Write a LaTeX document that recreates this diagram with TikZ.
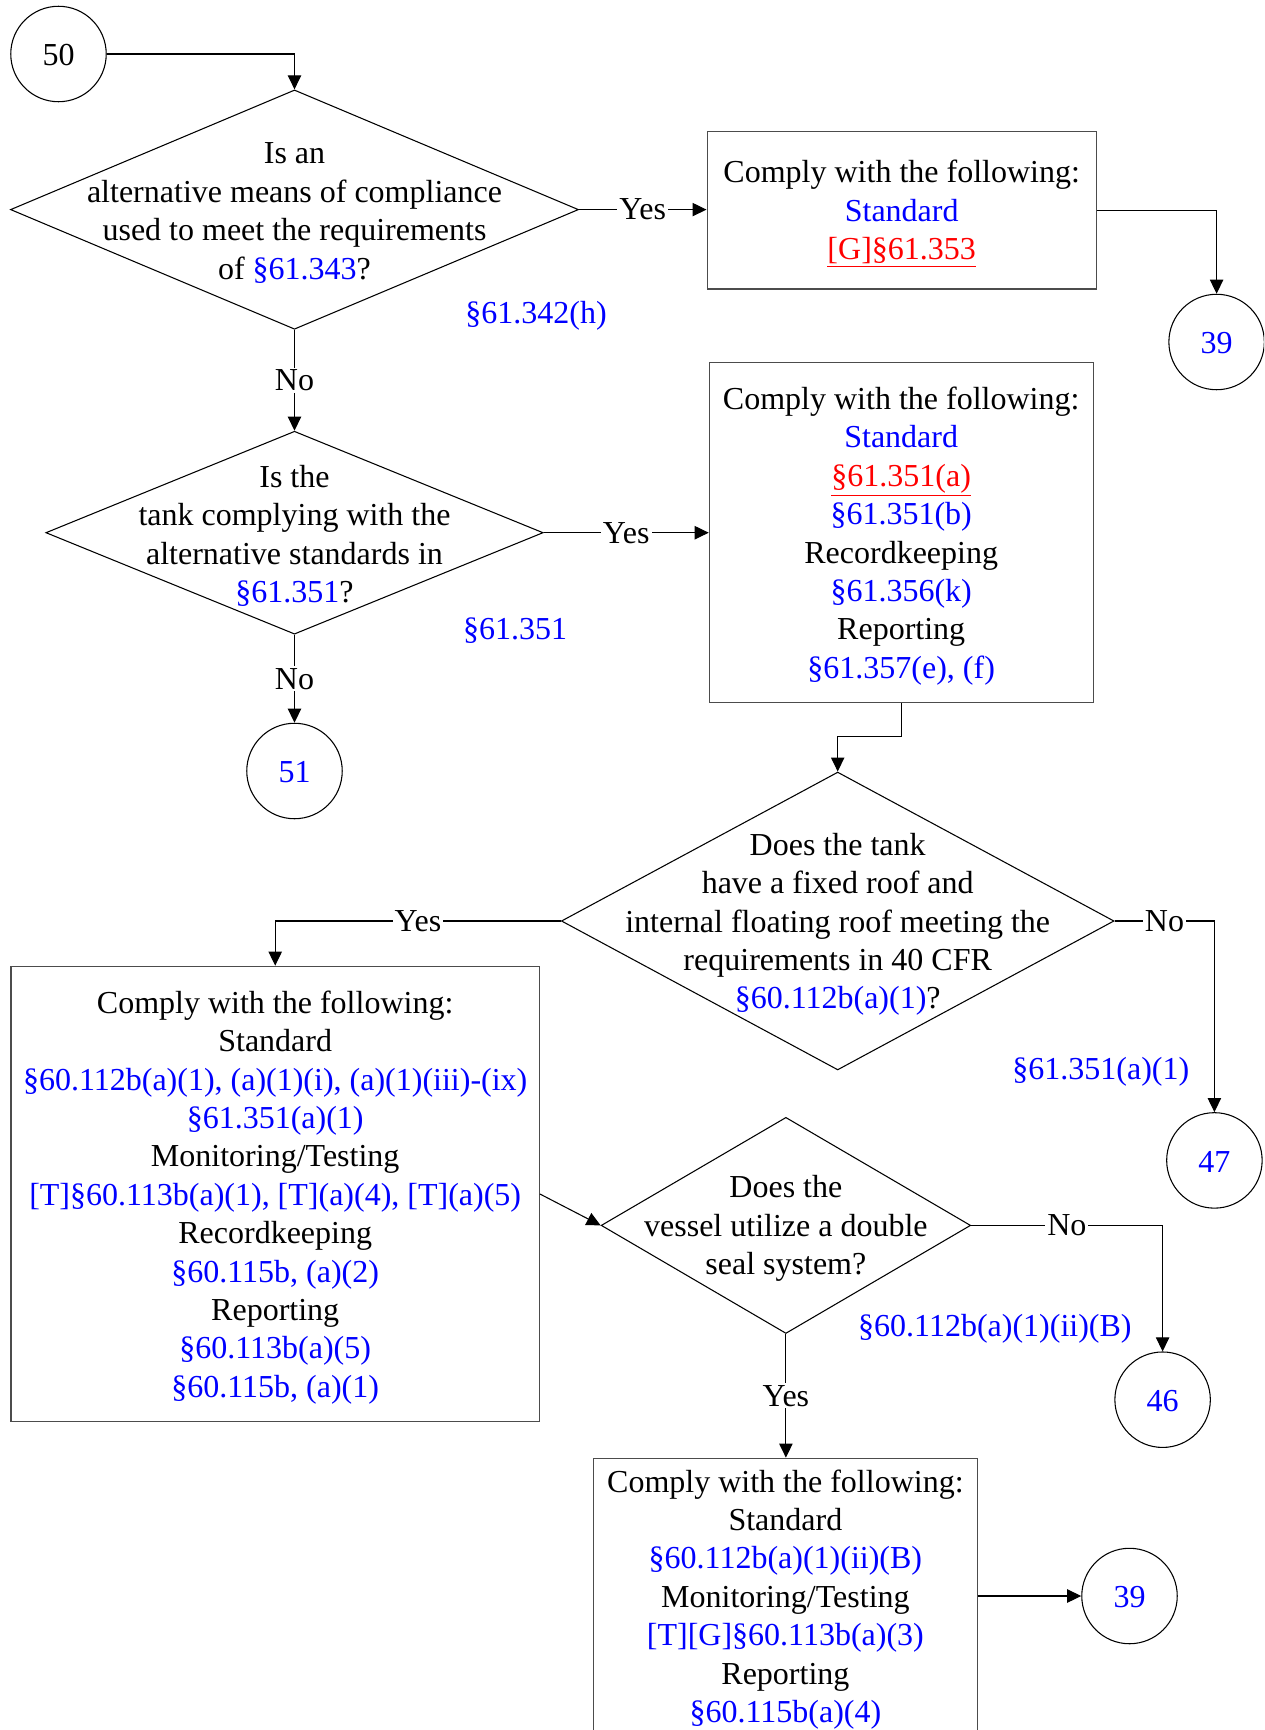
\documentclass[tikz,border=0pt]{standalone}
\usepackage{fontspec}
\setmainfont{Liberation Serif}
\usetikzlibrary{shapes.geometric,arrows.meta}
\definecolor{refblue}{RGB}{0,0,255}
\definecolor{refred}{RGB}{255,0,0}
\newcommand{\refB}[1]{\textcolor{refblue}{#1}}
\newcommand{\refR}[1]{\textcolor{refred}{\underline{#1}}}
\begin{document}
\begin{tikzpicture}[x=0.75pt,y=-0.75pt,
  every node/.style={font=\fontsize{24}{28.8}\selectfont},
  conn/.style={line width=0.8pt, -{Triangle[length=10.5pt,width=10pt]}},
  dec/.style={diamond, draw, line width=0.8pt, inner sep=0pt},
  qtext/.style={align=center, inner sep=0pt, yshift=-2.5pt},
  ctext/.style={inner sep=0pt, yshift=-0.8pt},
  box/.style={rectangle, draw=black!70, line width=0.8pt, inner sep=0pt},
  onpage/.style={circle, draw, line width=0.8pt, minimum size=71.6pt, inner sep=0pt},
  lab/.style={fill=white, inner sep=1.5pt},
  ref/.style={text=refblue, inner sep=0pt}]
\useasboundingbox (0,0) rectangle (1264,1730);
\clip (0,0) rectangle (1264,1730);

% nodes
\node[onpage] (c50) at (58.5,54) {};
\node[ctext] (c50t) at (c50.center) {50};
\node[dec, minimum width=426pt, minimum height=179.5pt] (d1) at (294.5,209.6) {};
\node[qtext] (d1t) at (d1.center) {Is an\\alternative means of compliance\\used to meet the requirements\\of \refB{§61.343}?};
\node[box, minimum width=292pt, minimum height=118.3pt] (b1) at (901.7,210.1) {};
\node[qtext] (b1t) at (b1.center) {Comply with the following:\\\refB{Standard}\\\refR{[G]§61.353}};
\node[onpage] (c39a) at (1216.6,342) {};
\node[ctext, text=refblue] (c39at) at (c39a.center) {39};
\node[ref] (r1) at (536,315.4) {§61.342(h)};

\node[dec, minimum width=373pt, minimum height=152.2pt] (d2) at (294.5,532.7) {};
\node[qtext] (d2t) at (d2.center) {Is the\\tank complying with the\\alternative standards in\\\refB{§61.351}?};
\node[ref] (r2) at (515.1,630.4) {§61.351};
\node[onpage] (c51) at (294.5,771) {};
\node[ctext, text=refblue] (c51t) at (c51.center) {51};

\node[box, minimum width=287.9pt, minimum height=254.8pt] (b2) at (901.2,532.8) {};
\node[qtext] (b2t) at (b2.center) {Comply with the following:\\\refB{Standard}\\\refR{§61.351(a)}\\\refB{§61.351(b)}\\Recordkeeping\\\refB{§61.356(k)}\\Reporting\\\refB{§61.357(e), (f)}};
\coordinate (k1) at (901.2,736.8);

\node[dec, minimum width=414.5pt, minimum height=223.4pt] (d3) at (837.7,921) {};
\node[qtext] (d3t) at (d3.center) {Does the tank\\have a fixed roof and\\internal floating roof meeting the\\requirements in 40 CFR\\\refB{§60.112b(a)(1)}?};
\node[ref] (r3) at (1100.8,1072.2) {§61.351(a)(1)};
\node[onpage] (c47) at (1214.4,1160.4) {};
\node[ctext, text=refblue] (c47t) at (c47.center) {47};

\node[box, minimum width=396.3pt, minimum height=341.7pt] (b3) at (275.2,1194) {};
\node[qtext] (b3t) at (b3.center) {Comply with the following:\\Standard\\\refB{§60.112b(a)(1), (a)(1)(i), (a)(1)(iii)-(ix)}\\\refB{§61.351(a)(1)}\\Monitoring/Testing\\\refB{[T]§60.113b(a)(1), [T](a)(4), [T](a)(5)}\\Recordkeeping\\\refB{§60.115b, (a)(2)}\\Reporting\\\refB{§60.113b(a)(5)}\\\refB{§60.115b, (a)(1)}};

\node[dec, minimum width=277.1pt, minimum height=162.1pt] (d4) at (785.9,1225.4) {};
\node[qtext] (d4t) at (d4.center) {Does the\\vessel utilize a double\\seal system?};
\node[ref] (r4) at (994.9,1329) {§60.112b(a)(1)(ii)(B)};
\node[onpage] (c46) at (1162.6,1399.7) {};
\node[ctext, text=refblue] (c46t) at (c46.center) {46};

\node[box, minimum width=288pt, minimum height=206.7pt] (b4) at (785.4,1596) {};
\node[qtext] (b4t) at (b4.center) {Comply with the following:\\Standard\\\refB{§60.112b(a)(1)(ii)(B)}\\Monitoring/Testing\\\refB{[T][G]§60.113b(a)(3)}\\Reporting\\\refB{§60.115b(a)(4)}};
\node[onpage] (c39b) at (1129.5,1596) {};
\node[ctext, text=refblue] (c39bt) at (c39b.center) {39};

% connectors
\draw[conn] (c50.east) -| (d1.north);
\draw[conn] (d1.east) -- node[lab]{Yes} (d1.east -| b1.west);
\draw[conn] (b1.east) -| (c39a.north);
\draw[conn] (d1.south) -- node[lab]{No} (d2.north);
\draw[conn] (d2.south) -- node[lab]{No} (c51.north);
\draw[conn] (d2.east) -- node[lab]{Yes} (d2.east -| b2.west);
\draw[conn] (b2.south) -- (k1) -| (d3.north);
\draw[conn] (d3.west) -| node[lab,pos=0.25]{Yes} (b3.north);
\draw[conn] (d3.east) -| node[lab,pos=0.25]{No} (c47.north);
\draw[conn] (b3.east) -- (d4.west);
\draw[conn] (d4.east) -| node[lab,pos=0.25]{No} (c46.north);
\draw[conn] (d4.south) -- node[lab]{Yes} (d4.south |- b4.north);
\draw[conn] (b4.east) -- (c39b.west);
\end{tikzpicture}
\end{document}
